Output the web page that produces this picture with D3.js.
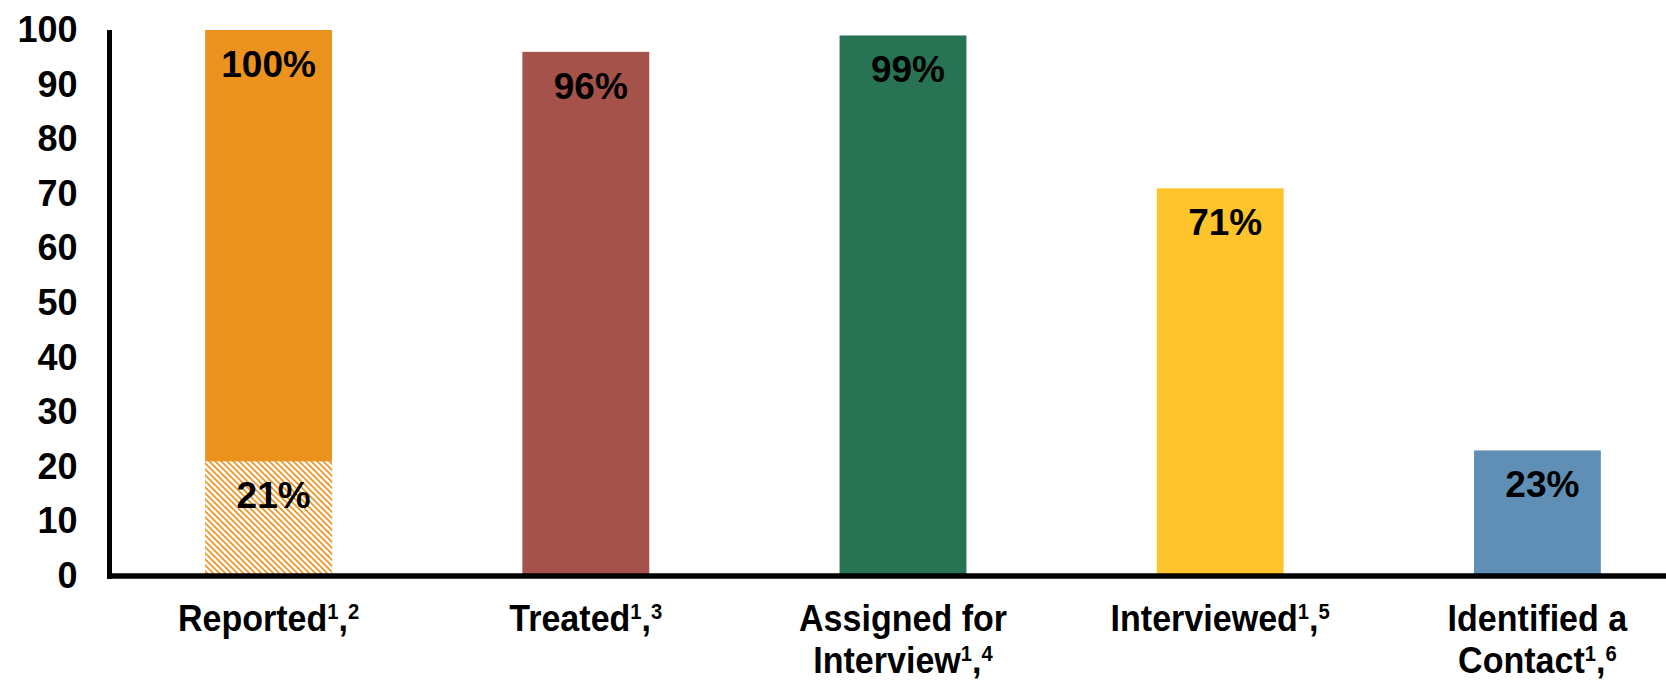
<!DOCTYPE html>
<html>
<head>
<meta charset="utf-8">
<script src="https://cdn.jsdelivr.net/npm/d3@7"></script>
<style>
  body { margin: 0; background: #fff; }
  svg { display: block; font-family: "Liberation Sans", Arial, sans-serif; font-weight: bold; }
</style>
</head>
<body>
<svg width="1666" height="681"></svg>
<script>
// chart data
var categories = ["Reported", "Treated", "Assigned for Interview", "Interviewed", "Identified a Contact"];
var labelLines = [["Reported"], ["Treated"], ["Assigned for", "Interview"], ["Interviewed"], ["Identified a", "Contact"]];
var footnotes = [["1", "2"], ["1", "3"], ["1", "4"], ["1", "5"], ["1", "6"]];
var values = [100, 96, 99, 71, 23];
var reportedHatched = [21];
var barColors = ["#EB921F", "#A5534A", "#277353", "#FDC42C", "#5F8FB4"];
var yTicks = [0, 10, 20, 30, 40, 50, 60, 70, 80, 90, 100];

function draw() {
    var svg = d3.select("svg");

    var x = d3.scaleBand()
        .domain(categories)
        .range([110, 1696])
        .paddingInner(0.6)
        .paddingOuter(0.3);

    var y = d3.scaleLinear()
        .domain([0, 100])
        .range([576, 30]);

    // hatch pattern for the part of the first bar
    var pat = svg.append("defs").append("pattern")
        .attr("id", "hatch")
        .attr("patternUnits", "userSpaceOnUse")
        .attr("width", 6)
        .attr("height", 6);
    pat.append("rect").attr("width", 6).attr("height", 6).attr("fill", "#fff");
    pat.append("path")
        .attr("d", "M-1,-1L7,7M-4,2L2,8M4,-2L8,2")
        .attr("stroke", barColors[0])
        .attr("stroke-width", 1.6);

    // bars
    svg.append("g").selectAll("rect")
        .data(values)
        .enter()
        .append("rect")
        .attr("x", function(d, i) { return x(categories[i]); })
        .attr("y", function(d) { return y(d); })
        .attr("width", x.bandwidth())
        .attr("height", function(d) { return y(0) - y(d); })
        .attr("fill", function(d, i) { return barColors[i]; });

    svg.append("g").selectAll("rect")
        .data(reportedHatched)
        .enter()
        .append("rect")
        .attr("x", x(categories[0]))
        .attr("y", function(d) { return y(d); })
        .attr("width", x.bandwidth())
        .attr("height", function(d) { return y(0) - y(d); })
        .attr("fill", "url(#hatch)");

    // value labels
    var labels = svg.append("g")
        .attr("font-size", 37)
        .attr("text-anchor", "middle")
        .attr("fill", "#000");
    labels.selectAll("text.v")
        .data(values)
        .enter()
        .append("text")
        .attr("class", "v")
        .attr("x", function(d, i) { return x(categories[i]) + x.bandwidth() / 2 + (i == 0 ? 0 : 5); })
        .attr("y", function(d) { return y(d) + 47; })
        .text(function(d) { return d + "%"; });
    labels.selectAll("text.h")
        .data(reportedHatched)
        .enter()
        .append("text")
        .attr("class", "h")
        .attr("x", x(categories[0]) + x.bandwidth() / 2 + 5)
        .attr("y", function(d) { return y(d) + 47; })
        .text(function(d) { return d + "%"; });

    // y axis
    var yAxis = svg.append("g")
        .attr("transform", "translate(109.5,0)")
        .call(d3.axisLeft(y).tickValues(yTicks).tickSize(0).tickSizeOuter(0).tickPadding(32));
    yAxis.select(".domain")
        .attr("stroke", "#000")
        .attr("stroke-width", 5)
        .attr("d", "M0," + y(100) + "V" + (y(0) + 2.75));
    yAxis.selectAll(".tick text")
        .attr("font-size", 36)
        .attr("font-family", "Liberation Sans, Arial, sans-serif")
        .attr("font-weight", "bold")
        .attr("fill", "#000");

    // x axis
    var xAxis = svg.append("g")
        .attr("transform", "translate(0," + y(0) + ")")
        .call(d3.axisBottom(x).tickSize(0).tickSizeOuter(0).tickFormat(""));
    xAxis.select(".domain")
        .attr("stroke", "#000")
        .attr("stroke-width", 5.5)
        .attr("d", "M107,0H1666");

    xAxis.selectAll(".tick").each(function(d, i) {
        var g = d3.select(this).append("g")
            .attr("transform", "translate(0,55) scale(0.92,1)");
        var lines = labelLines[i];
        lines.forEach(function(line, j) {
            var t = g.append("text")
                .attr("y", j * 42)
                .attr("text-anchor", "middle")
                .attr("font-size", 37)
                .attr("font-family", "Liberation Sans, Arial, sans-serif")
                .attr("font-weight", "bold")
                .attr("fill", "#000");
            t.append("tspan").text(line);
            if (j == lines.length - 1) {
                t.append("tspan").attr("font-size", 22).attr("dy", -12).text(footnotes[i][0]);
                t.append("tspan").attr("dy", 12).text(",");
                t.append("tspan").attr("font-size", 22).attr("dy", -12).text(footnotes[i][1]);
            }
        });
    });
}

draw();
</script>
</body>
</html>
